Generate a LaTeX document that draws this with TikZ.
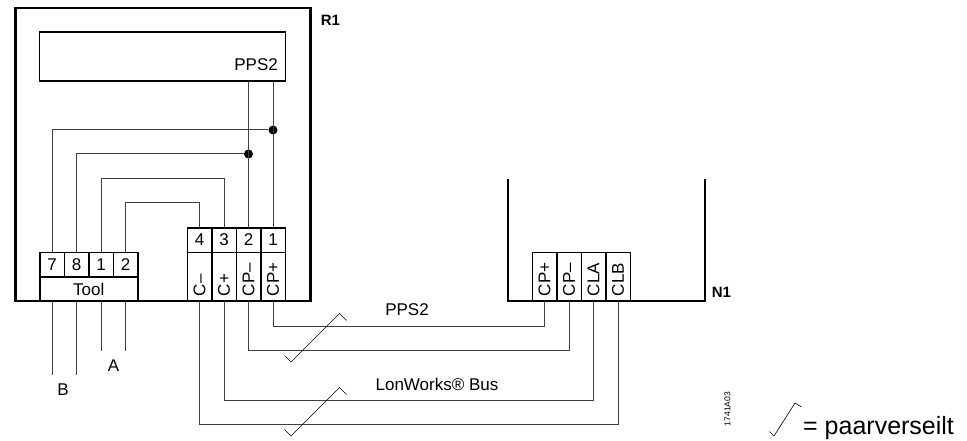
\documentclass[tikz,border=0pt]{standalone}
\usepackage{fontspec}
\setmainfont{Liberation Sans}
\begin{document}
\begin{tikzpicture}[x=1pt,y=-1pt,font=\fontsize{17}{20}\selectfont]
		\tikzstyle{unit} = [rectangle, draw, line width=2.4pt, inner sep=0pt, outer sep=0pt]
		\tikzstyle{cell} = [rectangle, draw, line width=1.5pt, inner sep=0pt, outer sep=0pt, minimum width=24.5pt, minimum height=24.5pt]
		\tikzstyle{pin} = [cell, rotate=90, minimum width=48.5pt, text width=38.5pt, inner xsep=5pt, align=left]
		\tikzstyle{wire} = [line width=1pt, black!75]
		\tikzstyle{tag} = [font=\fontsize{15}{18}\selectfont\bfseries]
		\tikzstyle{dot} = [circle, fill, inner sep=0pt, minimum size=9pt]
		\useasboundingbox (0,0) rectangle (967,441);
		% controller
		\node [unit, minimum width=295pt, minimum height=293pt] (R1) at (163,154.5) {};
		\node [cell, minimum width=246pt, minimum height=49pt] (display) at (162.5,56.5) {};
		\node [anchor=east, inner sep=0pt] (pps) at (278,65) {PPS2};
		\node [tag] (R1label) at (330.5,20) {R1};
		\node [cell] (T7) at (52,264.5) {7};
		\node [cell] (T8) at (76.5,264.5) {8};
		\node [cell] (T1) at (101,264.5) {1};
		\node [cell] (T2) at (125.5,264.5) {2};
		\node [cell, minimum width=98pt] (tool) at (88.75,289) {Tool};
		\node [cell] (C4) at (199.5,240) {4};
		\node [cell] (C3) at (224,240) {3};
		\node [cell] (C2) at (248.5,240) {2};
		\node [cell] (C1) at (273,240) {1};
		\node [pin] (Cm) at (199.5,276.75) {C--};
		\node [pin] (Cp) at (224,276.75) {C+};
		\node [pin] (CPm) at (248.5,276.75) {CP--};
		\node [pin] (CPp) at (273,276.75) {CP+};
		% field device
		\draw [line width=2.4pt] (508,179) -- (508,301) -- (705,301) -- (705,179);
		\node [tag] (N1label) at (721.5,292) {N1};
		\node [pin] (NCPp) at (544.5,276.75) {CP+};
		\node [pin] (NCPm) at (569,276.75) {CP--};
		\node [pin] (NCLA) at (593.5,276.75) {CLA};
		\node [pin] (NCLB) at (618,276.75) {CLB};
		% inner wiring
		\node [dot] (J1) at (273,130) {};
		\node [dot] (J2) at (248.5,154) {};
		\draw [wire] (display.south -| C2) -- (C2.north);
		\draw [wire] (display.south -| C1) -- (C1.north);
		\draw [wire] (T7.north) |- (J1);
		\draw [wire] (T8.north) |- (J2);
		\draw [wire] (T1.north) -- ++(0,-74) -| (C3.north);
		\draw [wire] (T2.north) -- ++(0,-49.5) -| (C4.north);
		% tool leads
		\coordinate (B1) at (52,375);
		\coordinate (B2) at (76.5,375);
		\coordinate (A1) at (101,351);
		\coordinate (A2) at (125.5,351);
		\draw [wire] (tool.south -| T7) -- (B1);
		\draw [wire] (tool.south -| T8) -- (B2);
		\draw [wire] (tool.south -| T1) -- (A1);
		\draw [wire] (tool.south -| T2) -- (A2);
		\node (Blabel) at (63,390) {B};
		\node (Alabel) at (113.5,366) {A};
		% bus wiring
		\draw [wire] (CPp.west) -- ++(0,25) -| (NCPp.west);
		\draw [wire] (CPm.west) -- ++(0,49.5) -| (NCPm.west);
		\draw [wire] (Cp.west) -- ++(0,99) -| (NCLA.west);
		\draw [wire] (Cm.west) -- ++(0,123) -| (NCLB.west);
		\draw (284.5,355.5) -- (291,362) -- (339.5,313.5) -- (346.5,320.5);
		\draw (284.5,429.5) -- (291,436) -- (339.5,387.5) -- (346.5,394.5);
		\node (ppsbus) at (407,310) {PPS2};
		\node (lonbus) at (437,384) {LonWorks\textregistered{} Bus};
		% legend
		\node [rotate=90, font=\fontsize{8.5}{10}\selectfont] (code) at (727.5,409) {1741A03};
		\draw [line width=0.6pt] (769.5,431.5) -- (774,436) -- (795,403) -- (801.5,407);
		\node [anchor=west, inner sep=0pt, font=\fontsize{25}{30}\selectfont] (legend) at (803,428) {= paarverseilt};
	\end{tikzpicture}
\end{document}
